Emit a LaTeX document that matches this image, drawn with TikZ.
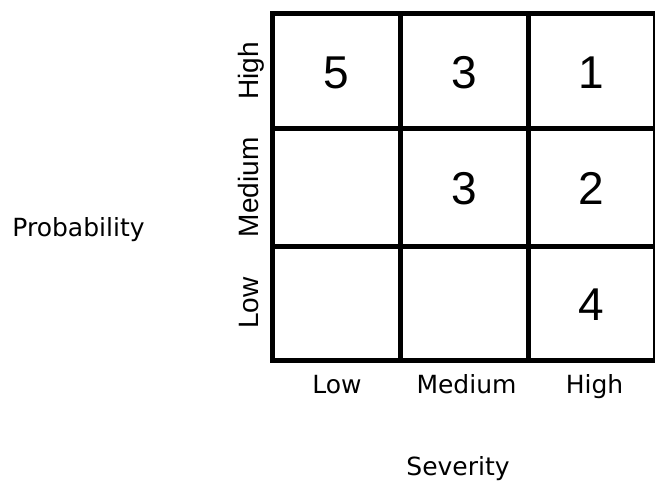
\documentclass[tikz,border=0pt]{standalone}
\usepackage{fontspec}
\setmainfont{Liberation Sans}
\newfontfamily\labfont{DejaVu Sans}
\begin{document}
\begin{tikzpicture}[x=1pt,y=-1pt,
  gridline/.style={line width=5pt, line cap=rect, line join=miter},
  num/.style={font=\fontsize{46}{46}\selectfont, inner sep=0pt},
  rowlab/.style={font=\fontsize{28}{28}\selectfont, rotate=90, anchor=base, inner sep=0pt},
  collab/.style={font=\labfont\fontsize{25}{25}\selectfont, anchor=base, inner sep=0pt}]
\useasboundingbox (0,0) rectangle (655,482);
% grid
\draw[gridline] (272.5,13.5) rectangle (655.5,360.5);
\draw[gridline] (400,13.5) -- (400,360.5);
\draw[gridline] (528,13.5) -- (528,360.5);
\draw[gridline] (272.5,128.5) -- (655.5,128.5);
\draw[gridline] (272.5,246) -- (655.5,246);
% numbers
\node[num] (n11) at (336.25,72.5) {5};
\node[num] (n12) at (464,72.5) {3};
\node[num] (n13) at (591.75,72.5) {1};
\node[num] (n22) at (464,188.5) {3};
\node[num] (n23) at (591.75,188.5) {2};
\node[num] (n33) at (591.75,304.5) {4};
% row labels
\node[rowlab] (rh) at (258,71) {High};
\node[rowlab] (rm) at (258,187.25) {Medium};
\node[rowlab] (rl) at (258,303.25) {Low};
% column labels
\node[collab] (cl) at (337,393) {Low};
\node[collab] (cm) at (466.5,393) {Medium};
\node[collab] (ch) at (594.5,393) {High};
% axis labels
\node[collab] (prob) at (78.5,236) {Probability};
\node[collab] (sev) at (458,475) {Severity};
\end{tikzpicture}
\end{document}
